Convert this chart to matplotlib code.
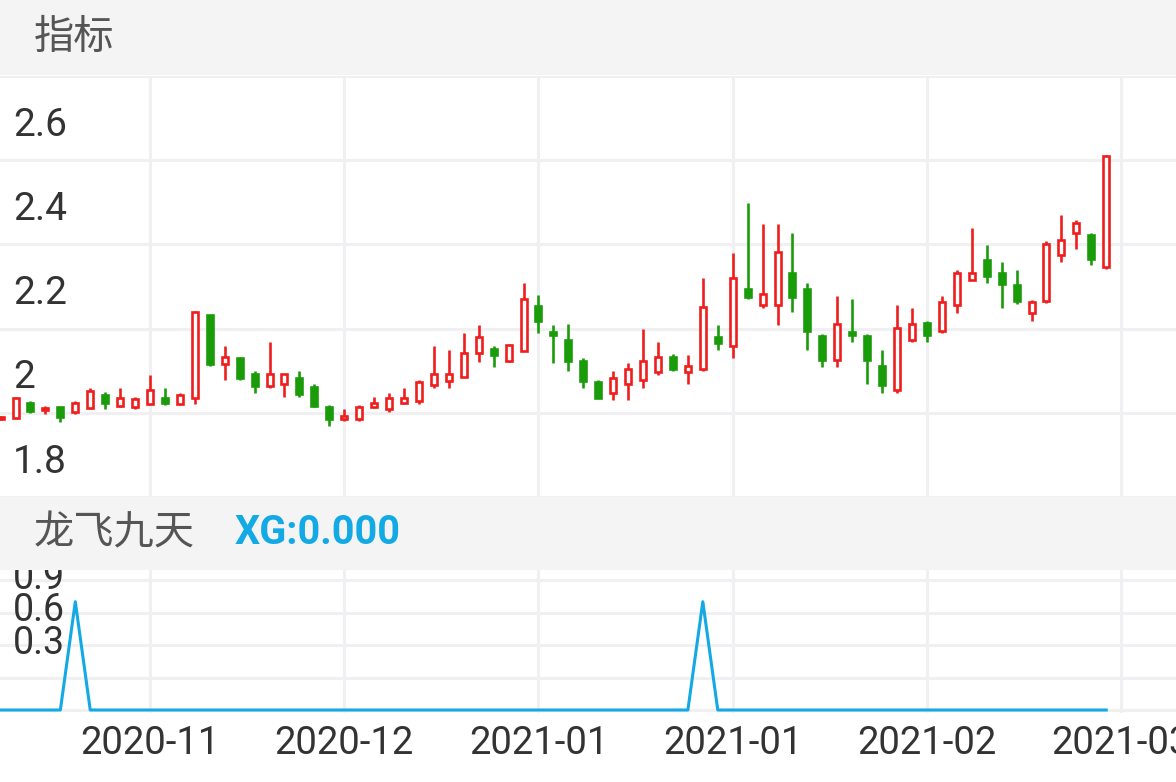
import matplotlib
matplotlib.use("Agg")
import matplotlib.pyplot as plt
from matplotlib.patches import Rectangle
from matplotlib.transforms import offset_copy

# ---------------- data ----------------
opens = [1.985, 1.987, 2.024, 2.006, 2.013, 2.003, 2.011, 2.042, 2.017, 2.014,
         2.021, 2.035, 2.022, 2.036, 2.232, 2.116, 2.130, 2.093, 2.064, 2.068,
         2.082, 2.061, 2.013, 1.985, 1.985, 2.013, 2.009, 2.024, 2.027, 2.066,
         2.075, 2.085, 2.142, 2.152, 2.124, 2.146, 2.253, 2.193, 2.173, 2.124,
         2.074, 2.048, 2.068, 2.077, 2.097, 2.132, 2.097, 2.103, 2.181, 2.158,
         2.293, 2.256, 2.256, 2.332, 2.293, 2.183, 2.126, 2.193, 2.183, 2.112,
         2.053, 2.173, 2.213, 2.195, 2.256, 2.316, 2.362, 2.333, 2.303, 2.236,
         2.265, 2.375, 2.427, 2.422, 2.346]
highs = [1.992, 2.038, 2.029, 2.017, 2.014, 2.028, 2.060, 2.049, 2.058, 2.038,
         2.089, 2.058, 2.048, 2.242, 2.233, 2.158, 2.133, 2.099, 2.169, 2.093,
         2.099, 2.068, 2.019, 2.009, 2.019, 2.038, 2.048, 2.058, 2.079, 2.158,
         2.148, 2.189, 2.209, 2.158, 2.163, 2.308, 2.279, 2.209, 2.210, 2.129,
         2.079, 2.099, 2.118, 2.198, 2.169, 2.140, 2.138, 2.320, 2.209, 2.379,
         2.499, 2.448, 2.448, 2.428, 2.309, 2.187, 2.278, 2.270, 2.187, 2.148,
         2.257, 2.248, 2.218, 2.278, 2.340, 2.438, 2.399, 2.359, 2.340, 2.268,
         2.409, 2.469, 2.458, 2.428, 2.613]
lows = [1.983, 1.986, 1.999, 1.998, 1.979, 1.998, 2.009, 2.009, 2.014, 2.009,
        2.019, 2.019, 2.019, 2.021, 2.111, 2.079, 2.079, 2.048, 2.060, 2.038,
        2.038, 2.014, 1.969, 1.981, 1.981, 2.011, 2.001, 2.021, 2.021, 2.060,
        2.060, 2.085, 2.121, 2.108, 2.121, 2.146, 2.189, 2.118, 2.099, 2.060,
        2.036, 2.030, 2.030, 2.058, 2.089, 2.099, 2.069, 2.099, 2.150, 2.130,
        2.270, 2.249, 2.209, 2.240, 2.148, 2.108, 2.108, 2.168, 2.069, 2.048,
        2.048, 2.168, 2.168, 2.189, 2.238, 2.315, 2.309, 2.249, 2.258, 2.218,
        2.260, 2.359, 2.389, 2.350, 2.341]
closes = [1.990, 2.035, 2.005, 2.011, 1.989, 2.024, 2.052, 2.024, 2.036, 2.032,
          2.053, 2.024, 2.042, 2.240, 2.115, 2.132, 2.083, 2.064, 2.093, 2.091,
          2.044, 2.017, 1.985, 1.993, 2.013, 2.024, 2.034, 2.034, 2.073, 2.091,
          2.091, 2.142, 2.181, 2.137, 2.162, 2.271, 2.217, 2.185, 2.124, 2.075,
          2.036, 2.082, 2.103, 2.122, 2.132, 2.105, 2.111, 2.252, 2.165, 2.321,
          2.275, 2.281, 2.381, 2.275, 2.195, 2.125, 2.211, 2.185, 2.125, 2.066,
          2.202, 2.211, 2.185, 2.262, 2.333, 2.333, 2.326, 2.305, 2.266, 2.262,
          2.402, 2.411, 2.452, 2.365, 2.611]
xg = [0, 0, 0, 0, 0, 1, 0, 0, 0, 0, 0, 0, 0, 0, 0, 0, 0, 0, 0, 0,
      0, 0, 0, 0, 0, 0, 0, 0, 0, 0, 0, 0, 0, 0, 0, 0, 0, 0, 0, 0,
      0, 0, 0, 0, 0, 0, 0, 1, 0, 0, 0, 0, 0, 0, 0, 0, 0, 0, 0, 0,
      0, 0, 0, 0, 0, 0, 0, 0, 0, 0, 0, 0, 0, 0, 0]
tick_pos = [10, 23, 36, 49, 62, 75]
tick_labels = ["2020-11", "2020-12", "2021-01", "2021-01", "2021-02", "2021-03"]
main_levels = [1.8, 2.0, 2.2, 2.4, 2.6]
main_level_labels = ["1.8", "2", "2.2", "2.4", "2.6"]
sub_levels = [0.3, 0.6, 0.9]
sub_level_labels = ["0.3", "0.6", "0.9"]

# ---------------- style ----------------
RED = "#f01d1d"
GREEN = "#1a9c0a"
BLUE = "#13a9e4"
GRID = "#f0f0f2"
BAND = "#f4f4f4"
TXT = "#333333"

W, H = 1176, 782
fig = plt.figure(figsize=(W / 100, H / 100), dpi=100)
fig.patch.set_facecolor("white")

def fy(px):
    return 1 - px / H

# header bands
fig.patches.append(Rectangle((0, fy(75)), 1, 75 / H, transform=fig.transFigure,
                             facecolor=BAND, edgecolor="none", zorder=0))
fig.patches.append(Rectangle((0, fy(570)), 1, (570 - 497) / H, transform=fig.transFigure,
                             facecolor=BAND, edgecolor="none", zorder=0))

fig.text(34 / W, fy(37), "指标", fontsize=29, color="#555555",
         family=["Noto Sans CJK SC", "DejaVu Sans"], va="center", ha="left")
fig.text(34 / W, fy(533), "龙飞九天", fontsize=29, color="#555555",
         family=["Noto Sans CJK SC", "DejaVu Sans"], va="center", ha="left")
fig.text(235 / W, fy(533), "XG:0.000", fontsize=28.5, color=BLUE, fontweight="bold",
         family=["Roboto", "DejaVu Sans"], va="center", ha="left")

# ---------------- main axes ----------------
ax = fig.add_axes([0, fy(497), 1, (497 - 76) / H])
n = len(opens)
xs = list(range(n))
ax.set_xlim(-0.04, 78.67)
ax.set_ylim(1.8, 2.7906)

for spine in ax.spines.values():
    spine.set_visible(False)
ax.set_xticks(tick_pos)
ax.set_yticks([1.8, 2.0, 2.2, 2.4, 2.6, 2.8])
ax.tick_params(length=0, labelbottom=False, labelleft=False)
ax.grid(True, color=GRID, linewidth=2.2, zorder=0)
ax.set_axisbelow(True)

up = [c >= o for o, c in zip(opens, closes)]
colors = [RED if u else GREEN for u in up]
faces = ["white" if u else GREEN for u in up]
ax.vlines(xs, lows, highs, colors=colors, linewidth=1.9, zorder=2)
bottoms = [min(o, c) for o, c in zip(opens, closes)]
heights = [max(abs(c - o), 0.002) for o, c in zip(opens, closes)]
ax.bar(xs, heights, bottom=bottoms, width=0.40, color=faces, edgecolor=colors,
       linewidth=1.9, zorder=3)

for lv, lb in zip(main_levels, main_level_labels):
    tr = offset_copy(ax.get_yaxis_transform(), fig=fig, x=0, y=17.5, units="points")
    ax.text(13 / W, lv, lb, transform=tr, fontsize=28, color=TXT,
            family=["Roboto", "DejaVu Sans"], ha="left", va="baseline", clip_on=True)

# ---------------- indicator axes ----------------
ax2 = fig.add_axes([0, fy(713), 1, (713 - 570) / H])
ax2.set_xlim(-0.04, 78.67)
ax2.set_ylim(-0.0277, 1.2927)
for spine in ax2.spines.values():
    spine.set_visible(False)
ax2.set_xticks(tick_pos, tick_labels)
ax2.set_yticks([0, 0.3, 0.6, 0.9, 1.2])
ax2.tick_params(length=0, labelleft=False, pad=8.5, labelsize=27.5, labelcolor=TXT)
for t in ax2.get_xticklabels():
    t.set_family(["Roboto", "DejaVu Sans"])
ax2.grid(True, color=GRID, linewidth=2.2, zorder=0)
ax2.set_axisbelow(True)
ax2.plot(xs, xg, color=BLUE, linewidth=2.2, zorder=3, clip_on=False)

for lv, lb in zip(sub_levels, sub_level_labels):
    tr = offset_copy(ax2.get_yaxis_transform(), fig=fig, x=0, y=17, units="points")
    ax2.text(13 / W, lv, lb, transform=tr, fontsize=27, color=TXT,
             family=["Roboto", "DejaVu Sans"], ha="left", va="baseline", clip_on=True)

fig.savefig("out.png", dpi=100, facecolor="white")
